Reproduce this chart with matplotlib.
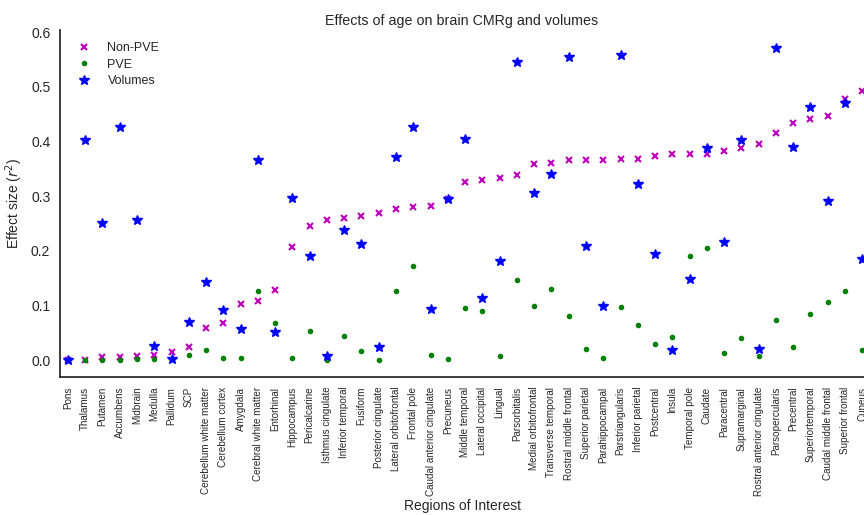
import numpy as np
import matplotlib
matplotlib.use("Agg")
import matplotlib.pyplot as plt
import seaborn as sns

sns.set_style("white")
plt.rcParams['font.family'] = ['Liberation Sans', 'DejaVu Sans']

regions = ['Pons', 'Thalamus', 'Putamen', 'Accumbens', 'Midbrain', 'Medulla', 'Pallidum', 'SCP',
           'Cerebellum white matter', 'Cerebellum cortex', 'Amygdala', 'Cerebral white matter',
           'Entorhinal', 'Hippocampus', 'Pericalcarine', 'Isthmus cingulate', 'Inferior temporal',
           'Fusiform', 'Posterior cingulate', 'Lateral orbitofrontal', 'Frontal pole',
           'Caudal anterior cingulate', 'Precuneus', 'Middle temporal', 'Lateral occipital',
           'Lingual', 'Parsorbitalis', 'Medial orbitofrontal', 'Transverse temporal',
           'Rostral middle frontal', 'Superior parietal', 'Parahippocampal', 'Parstriangularis',
           'Inferior parietal', 'Postcentral', 'Insula', 'Temporal pole', 'Caudate', 'Paracentral',
           'Supramarginal', 'Rostral anterior cingulate', 'Parsopercularis', 'Precentral',
           'Superiortemporal', 'Caudal middle frontal', 'Superior frontal', 'Cuneus']

non_pve = [0.000, 0.001, 0.005, 0.006, 0.007, 0.010, 0.015, 0.024, 0.058, 0.067, 0.103, 0.108,
           0.128, 0.207, 0.246, 0.257, 0.260, 0.263, 0.270, 0.276, 0.280, 0.282, 0.295, 0.325,
           0.330, 0.333, 0.339, 0.358, 0.360, 0.366, 0.366, 0.366, 0.368, 0.368, 0.374, 0.377,
           0.377, 0.378, 0.382, 0.388, 0.396, 0.415, 0.434, 0.441, 0.446, 0.477, 0.493]

pve = [0.000, 0.000, 0.001, 0.001, 0.002, 0.002, 0.002, 0.010, 0.019, 0.003, 0.004, 0.126,
       0.068, 0.004, 0.053, 0.001, 0.044, 0.016, 0.001, 0.127, 0.172, 0.009, 0.002, 0.096,
       0.090, 0.008, 0.146, 0.099, 0.130, 0.080, 0.021, 0.004, 0.097, 0.065, 0.029, 0.043,
       0.190, 0.206, 0.013, 0.040, 0.007, 0.073, 0.024, 0.084, 0.107, 0.126, 0.018]

volumes = [0.000, 0.402, 0.251, 0.427, 0.257, 0.026, 0.002, 0.070, 0.142, 0.091, 0.056, 0.366,
           0.051, 0.297, 0.191, 0.008, 0.238, 0.213, 0.023, 0.372, 0.426, 0.093, 0.294, 0.405,
           0.114, 0.181, 0.546, 0.306, 0.340, 0.555, 0.209, 0.099, 0.559, 0.322, 0.195, 0.018,
           0.148, 0.388, 0.216, 0.402, 0.021, 0.571, 0.390, 0.463, 0.291, 0.471, 0.185]

x = np.arange(len(regions))

fig = plt.figure(figsize=(8.64, 5.15), dpi=100)
ax = fig.add_axes([60/864, 1-377/515, 1-60/864, (377-29.5)/515])

ax.plot(x, non_pve, 'mx', markersize=5, markeredgewidth=1.5, label='Non-PVE')
ax.plot(x, pve, 'g.', markersize=6, label='PVE')
ax.plot(x, volumes, 'b*', markersize=7, label='Volumes')

ax.set_xlim(-0.46, 46.1)
ax.set_ylim(-0.031, 0.605)
ax.set_yticks([0.0, 0.1, 0.2, 0.3, 0.4, 0.5, 0.6])
ax.set_xticks(x)
ax.set_xticklabels(regions, rotation=90, fontsize=7.1)
ax.tick_params(axis='y', labelsize=10)
ax.set_xlabel('Regions of Interest', fontsize=10, labelpad=2)
ax.set_ylabel('Effect size ($r^2$)', fontsize=10)
ax.set_title('Effects of age on brain CMRg and volumes', fontsize=10.3, pad=3)
for s in ['left', 'bottom']:
    ax.spines[s].set_color('#262626')
    ax.spines[s].set_linewidth(1.25)
sns.despine(ax=ax)
ax.legend(loc='upper left', frameon=False, fontsize=9, handletextpad=0.9,
          labelspacing=0.35, bbox_to_anchor=(0.0, 0.995))

fig.savefig('out.png', dpi=100)
